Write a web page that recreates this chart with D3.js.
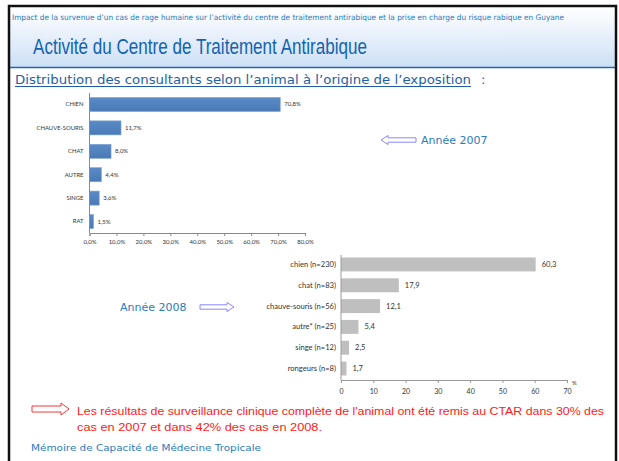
<!DOCTYPE html>
<html><head><meta charset="utf-8">
<script src="https://cdn.jsdelivr.net/npm/d3@7"></script>
<style>body{margin:0;background:#fff}svg{display:block}</style>
</head><body>
<script>
// Data
const cats2007 = ["CHIEN","CHAUVE-SOURIS","CHAT","AUTRE","SINGE","RAT"];
const vals2007 = [70.8, 11.7, 8.0, 4.4, 3.6, 1.5];
const ticks2007 = [0,10,20,30,40,50,60,70,80];
const cats2008 = ["chien (n=230)","chat (n=83)","chauve-souris (n=56)","autre* (n=25)","singe (n=12)","rongeurs (n=8)"];
const vals2008 = [60.3, 17.9, 12.1, 5.4, 2.5, 1.7];
const ticks2008 = [0,10,20,30,40,50,60,70];

const W=619,H=461;
const svg=d3.select("body").append("svg").attr("width",W).attr("height",H);
const defs=svg.append("defs");
const g=defs.append("linearGradient").attr("id","hdr").attr("x1",0).attr("y1",0).attr("x2",0).attr("y2",1);
g.append("stop").attr("offset","0%").attr("stop-color","#ffffff");
g.append("stop").attr("offset","100%").attr("stop-color","#cde0f6");
const bg=defs.append("linearGradient").attr("id","bar1").attr("x1",0).attr("y1",0).attr("x2",0).attr("y2",1);
bg.append("stop").attr("offset","0%").attr("stop-color","#5a8bc6");
bg.append("stop").attr("offset","100%").attr("stop-color","#4a7ab6");

// frame
svg.append("rect").attr("x",0).attr("y",0).attr("width",W).attr("height",H).attr("fill","#fff");
svg.append("rect").attr("x",10).attr("y",7).attr("width",605).attr("height",60).attr("fill","url(#hdr)");
svg.append("line").attr("x1",10).attr("x2",615).attr("y1",67.5).attr("y2",67.5).attr("stroke","#2468b0").attr("stroke-width",1.5);
svg.append("rect").attr("x",9).attr("y",6).attr("width",607).attr("height",470).attr("fill","none").attr("stroke","#111").attr("stroke-width",2.5);

const blue="#2a7bc0";
svg.append("text").attr("x",12).attr("y",19.5).attr("font-family","DejaVu Sans").attr("font-size",7.6)
  .attr("fill",blue).attr("textLength",552).attr("lengthAdjust","spacingAndGlyphs")
  .text("Impact de la survenue d’un cas de rage humaine sur l’activité du centre de traitement antirabique et la prise en charge du risque rabique en Guyane");
svg.append("text").attr("x",33).attr("y",54).attr("font-family","Liberation Sans, Arial").attr("font-size",21.5)
  .attr("fill","#1463b0").attr("textLength",334).attr("lengthAdjust","spacingAndGlyphs")
  .text("Activité du Centre de Traitement Antirabique");
svg.append("text").attr("x",15).attr("y",84).attr("font-family","DejaVu Sans").attr("font-size",13)
  .attr("fill","#1f5fa5").attr("textLength",456).attr("lengthAdjust","spacingAndGlyphs")
  .text("Distribution des consultants selon l’animal à l’origine de l’exposition");
svg.append("line").attr("x1",15).attr("x2",471).attr("y1",86.5).attr("y2",86.5).attr("stroke","#1f5fa5").attr("stroke-width",1);
svg.append("text").attr("x",481).attr("y",84).attr("font-family","DejaVu Sans").attr("font-size",13).attr("fill","#1f5fa5").text(":");

// Chart 2007
const x1=d3.scaleLinear().domain([0,80]).range([89.5,305]);
const y1=d3.scaleBand().domain(cats2007).range([93,233]).paddingInner(0.4).paddingOuter(0.19);
const c1=svg.append("g").attr("font-family","Lato, Open Sans, sans-serif");
c1.selectAll("rect.b").data(vals2007).join("rect").attr("class","b")
  .attr("x",x1(0)).attr("y",(d,i)=>y1(cats2007[i])).attr("width",d=>x1(d)-x1(0)).attr("height",y1.bandwidth())
  .attr("fill","url(#bar1)").attr("stroke","#7fa3d3").attr("stroke-width",0.6);
c1.selectAll("text.v").data(vals2007).join("text").attr("class","v")
  .attr("x",d=>x1(d)+4).attr("y",(d,i)=>y1(cats2007[i])+y1.bandwidth()/2+2)
  .attr("font-size",6).attr("fill","#333").text(d=>d.toFixed(1).replace(".",",")+"%");
const ax1=c1.append("g").attr("transform",`translate(0,233)`)
  .call(d3.axisBottom(x1).tickValues(ticks2007).tickSize(3).tickFormat(d=>d.toFixed(1).replace(".",",")+"%"));
ax1.select(".domain").attr("stroke","#8a8a8a");
ax1.selectAll("line").attr("stroke","#8a8a8a");
ax1.selectAll("text").attr("font-size",6).attr("fill","#333").attr("dy","0.9em").attr("font-family","Lato, Open Sans, sans-serif");
const ay1=c1.append("g").attr("transform",`translate(89.5,0)`)
  .call(d3.axisLeft(y1).tickSize(0).tickPadding(6));
ay1.select(".domain").attr("stroke","#8a8a8a").attr("d","M0,93V233");
ay1.selectAll("text").attr("font-size",5.9).attr("fill","#333").attr("font-family","Lato, Open Sans, sans-serif");

// Chart 2008
const x2=d3.scaleLinear().domain([0,70]).range([341,567]);
const y2=d3.scaleBand().domain(cats2008).range([253,380]).paddingInner(0.33).paddingOuter(0.215);
const c2=svg.append("g").attr("font-family","Lato, Open Sans, sans-serif");
c2.selectAll("rect.b").data(vals2008).join("rect").attr("class","b")
  .attr("x",x2(0)).attr("y",(d,i)=>y2(cats2008[i])).attr("width",d=>x2(d)-x2(0)).attr("height",y2.bandwidth())
  .attr("fill","#bfbfbf");
c2.selectAll("text.v").data(vals2008).join("text").attr("class","v")
  .attr("x",d=>x2(d)+6).attr("y",(d,i)=>y2(cats2008[i])+y2.bandwidth()/2+2.5)
  .attr("font-size",7.5).attr("fill","#333").text(d=>d.toFixed(1).replace(".",","));
const ax2=c2.append("g").attr("transform",`translate(0,380)`)
  .call(d3.axisBottom(x2).tickValues(ticks2008).tickSize(3).tickFormat(d=>d));
ax2.select(".domain").attr("stroke","#9a9a9a");
ax2.selectAll("line").attr("stroke","#9a9a9a");
ax2.selectAll("text").attr("font-size",7).attr("fill","#333").attr("dy","1.1em").attr("font-family","Lato, Open Sans, sans-serif");
c2.append("text").attr("x",x2(70)+5).attr("y",385).attr("font-size",6).attr("fill","#333").text("%");
const ay2=c2.append("g").attr("transform",`translate(341,0)`)
  .call(d3.axisLeft(y2).tickSize(0).tickPadding(5));
ay2.select(".domain").attr("stroke","#9a9a9a").attr("d","M0,255V380");
ay2.selectAll("text").attr("font-size",7.6).attr("fill","#333").attr("font-family","Lato, Open Sans, sans-serif");

// arrows
function arrow(x0,x1_,y,sh,hh,hl,color){
  const dir = x1_>x0?1:-1;
  const hb = x1_-dir*hl;
  const p=`M${x0},${y-sh}L${hb},${y-sh}L${hb},${y-hh}L${x1_},${y}L${hb},${y+hh}L${hb},${y+sh}L${x0},${y+sh}Z`;
  svg.append("path").attr("d",p).attr("fill","#fff").attr("stroke",color).attr("stroke-width",0.9);
}
arrow(416,381,140,2.2,4.5,7,"#7a7aff");
svg.append("text").attr("x",421).attr("y",144).attr("font-family","DejaVu Sans").attr("font-size",11).attr("fill",blue).text("Année 2007");
arrow(200,234,307,2.2,4.5,7,"#7a7aff");
svg.append("text").attr("x",120).attr("y",311).attr("font-family","DejaVu Sans").attr("font-size",11).attr("fill",blue).text("Année 2008");

arrow(32,69,409,3,6,8,"#ee2222");
svg.append("text").attr("x",77).attr("y",415).attr("font-family","Liberation Sans, Arial").attr("font-size",11.5).attr("fill","#ff1a1a")
  .attr("textLength",527).attr("lengthAdjust","spacingAndGlyphs")
  .text("Les résultats de surveillance clinique complète de l'animal ont été remis au CTAR dans 30% des");
svg.append("text").attr("x",77).attr("y",431).attr("font-family","Liberation Sans, Arial").attr("font-size",11.5).attr("fill","#ff1a1a")
  .attr("textLength",245).attr("lengthAdjust","spacingAndGlyphs")
  .text("cas en 2007 et dans 42% des cas en 2008.");
svg.append("text").attr("x",31).attr("y",451).attr("font-family","DejaVu Sans").attr("font-size",9.3).attr("fill",blue)
  .attr("textLength",230).attr("lengthAdjust","spacingAndGlyphs")
  .text("Mémoire de Capacité de Médecine Tropicale");
</script>
</body></html>
